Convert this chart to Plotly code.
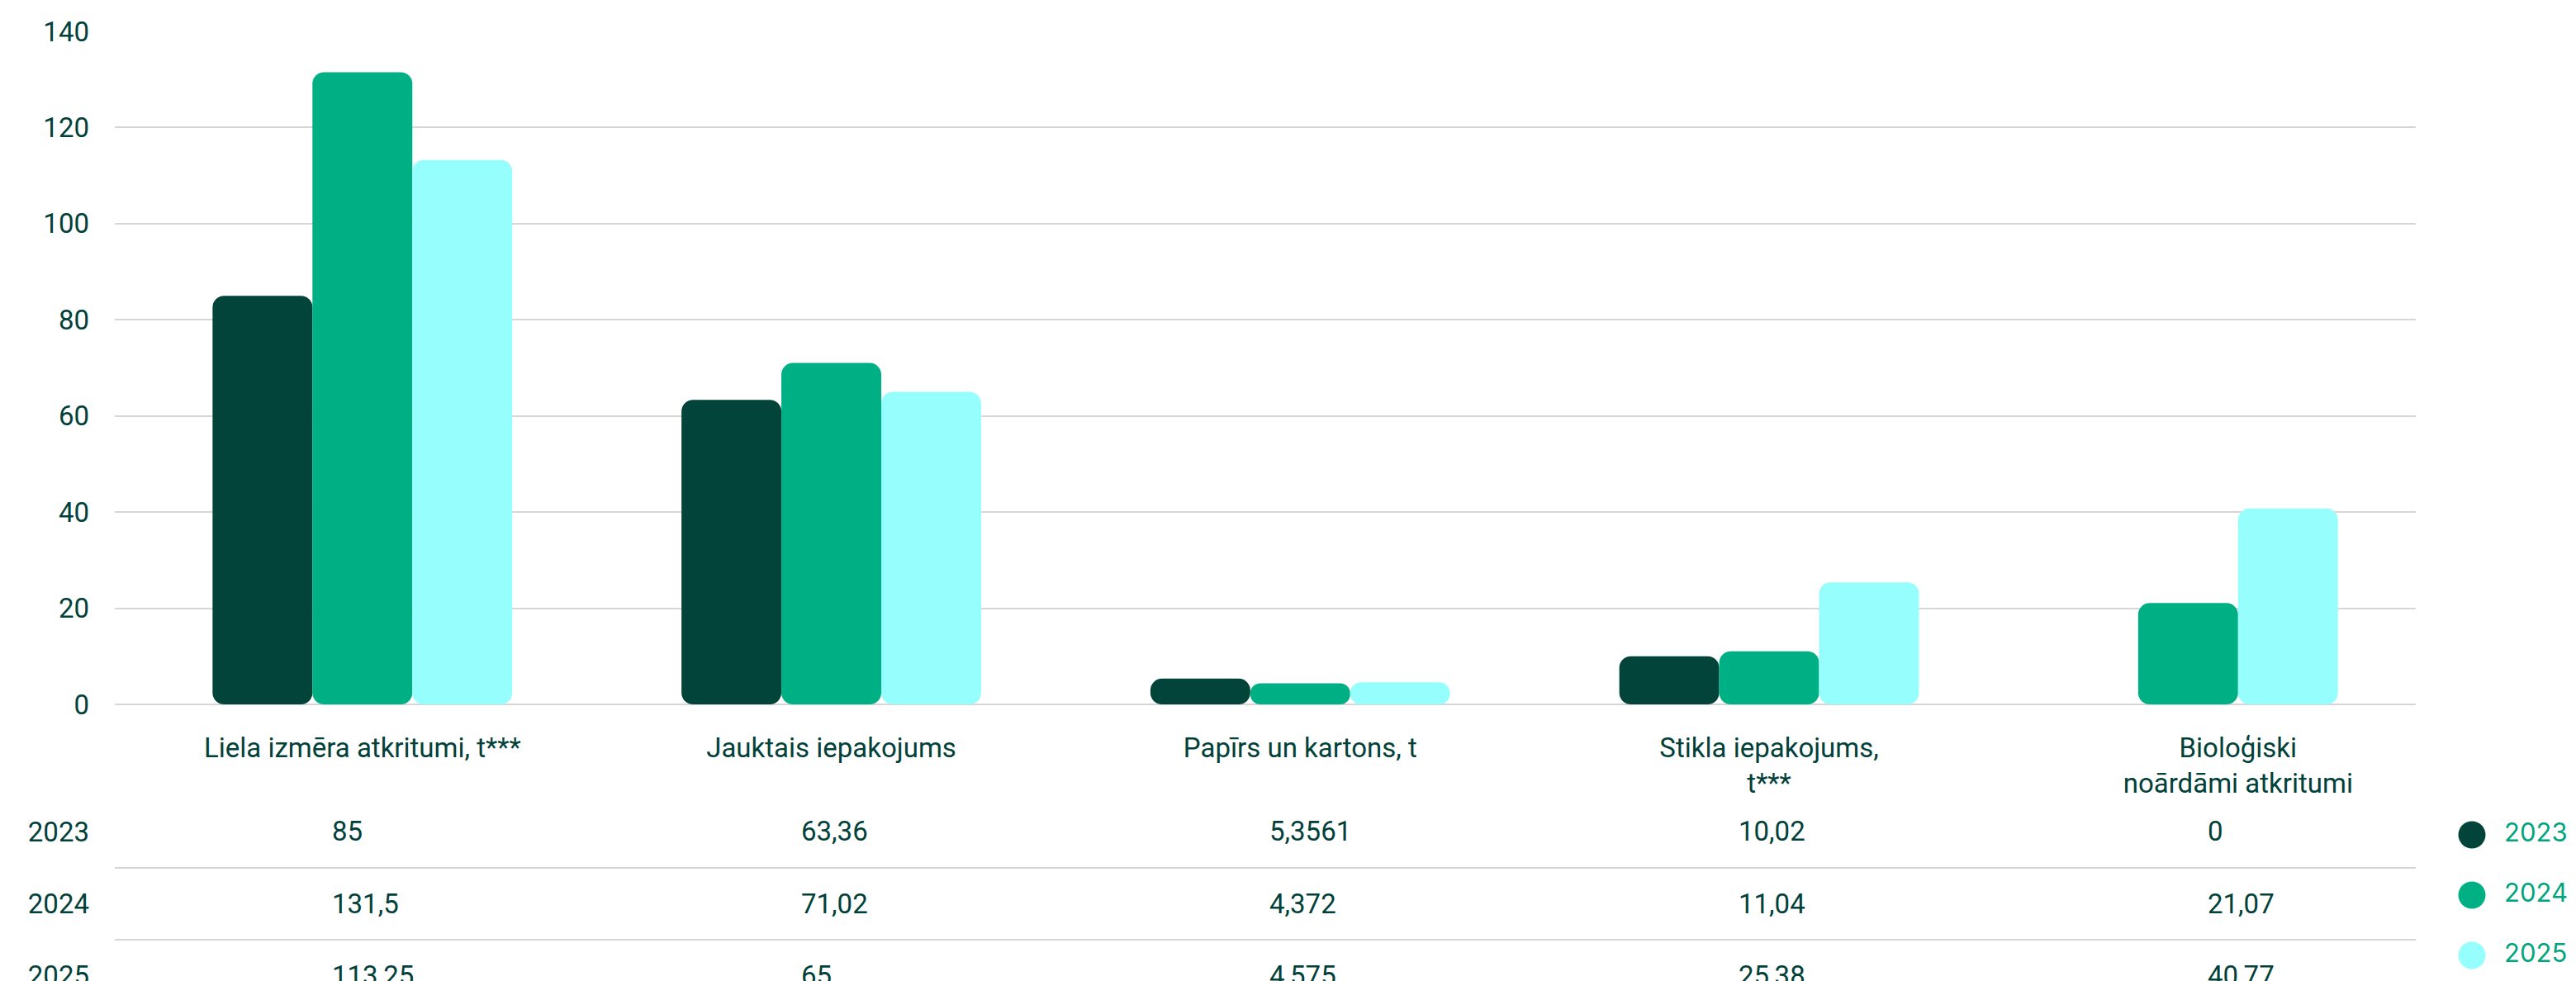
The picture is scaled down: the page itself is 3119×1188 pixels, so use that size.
import plotly.graph_objects as go

years = ["2023", "2024", "2025"]
categories = [
    "Liela izmēra atkritumi, t***",
    "Jauktais iepakojums",
    "Papīrs un kartons, t",
    "Stikla iepakojums,<br>t***",
    "Bioloģiski<br>noārdāmi atkritumi",
]
v2023 = [85, 63.36, 5.3561, 10.02, 0]
v2024 = [131.5, 71.02, 4.372, 11.04, 21.07]
v2025 = [113.25, 65, 4.575, 25.38, 40.77]
series = [v2023, v2024, v2025]

colors = ["#02433A", "#00B085", "#96FFFD"]
text_color = "#02413A"
grid_color = "#D6D6D6"
font_main = "Roboto, sans-serif"

bar_w = 0.213


def fmt(v):
    return f"{v:g}".replace(".", ",")


fig = go.Figure()

# bars: zero values are skipped, remaining bars centred on the category
for k, (name, vals) in enumerate(zip(years, series)):
    offs = []
    for i in range(len(categories)):
        active = [s for s in range(len(series)) if series[s][i] > 0]
        pos = active.index(k) if k in active else 0
        offs.append(-len(active) * bar_w / 2 + pos * bar_w)
    fig.add_trace(go.Bar(
        x=categories, y=vals, base=[0] * len(vals),
        offset=offs, width=bar_w, marker=dict(color=colors[k], cornerradius=14, line_width=0),
        name=name, showlegend=False, hoverinfo="skip",
    ))

# table rows (invisible anchor trace so the axis is drawn)
fig.add_trace(go.Scatter(
    x=[c for c in categories for _ in years], y=[y for _ in categories for y in years],
    xaxis="x", yaxis="y2", mode="markers", marker=dict(opacity=0),
    showlegend=False, hoverinfo="skip",
))
for j, y in enumerate(years):
    for i, c in enumerate(categories):
        fig.add_annotation(
            x=i, y=j, xref="x", yref="y2", text=fmt(series[j][i]),
            showarrow=False, xanchor="left", yanchor="middle", xshift=-39,
            font=dict(family=font_main, size=33, color=text_color),
        )

# legend
fig.add_trace(go.Scatter(
    x=[0.5] * 3, y=years, xaxis="x3", yaxis="y3", mode="markers+text",
    marker=dict(size=33, color=colors), text=["\u00a0\u00a0" + y for y in years],
    textposition="middle right", cliponaxis=False,
    textfont=dict(family="Inter, Roboto, sans-serif", size=31, color="#00A57E"),
    showlegend=False, hoverinfo="skip",
))

fig.update_layout(
    width=3119, height=1188,
    margin=dict(l=0, r=0, t=0, b=0),
    paper_bgcolor="white", plot_bgcolor="white",
    barmode="overlay", showlegend=False, hovermode=False,
    font=dict(family=font_main, size=33, color=text_color),
    xaxis=dict(
        type="category", domain=[139 / 3119, 2925 / 3119], range=[-0.528, 4.379],
        showgrid=False, showline=False, zeroline=False, ticks="", automargin=False,
        ticklabelstandoff=30, tickfont=dict(size=33, color=text_color),
    ),
    yaxis=dict(
        domain=[(1188 - 853) / 1188, (1188 - 38) / 1188], range=[0, 140], dtick=20,
        showgrid=True, gridcolor=grid_color, gridwidth=2,
        zeroline=True, zerolinecolor=grid_color, zerolinewidth=2,
        showline=False, ticks="", ticklabelstandoff=30, automargin=False,
        tickfont=dict(size=33, color=text_color),
    ),
    yaxis2=dict(
        type="category", categoryarray=years, anchor="x",
        domain=[0, (1188 - 970) / 1188], range=[2.080, -0.425],
        tickson="boundaries", showgrid=True, gridcolor=grid_color, gridwidth=2,
        zeroline=False, showline=False, ticks="", ticklabelstandoff=30, automargin=False,
        tickfont=dict(size=33, color=text_color),
    ),
    xaxis3=dict(domain=[2976 / 3119, 3010 / 3119], range=[0, 1], anchor="y3",
                visible=False, automargin=False),
    yaxis3=dict(
        type="category", categoryarray=years, domain=[0, (1188 - 960) / 1188],
        range=[2.4247, -0.6986], anchor="x3", visible=False, automargin=False,
    ),
)

fig.write_html(
    "out.html",
    config={"displayModeBar": False},
    post_script="document.body.style.margin = '0';",
)
